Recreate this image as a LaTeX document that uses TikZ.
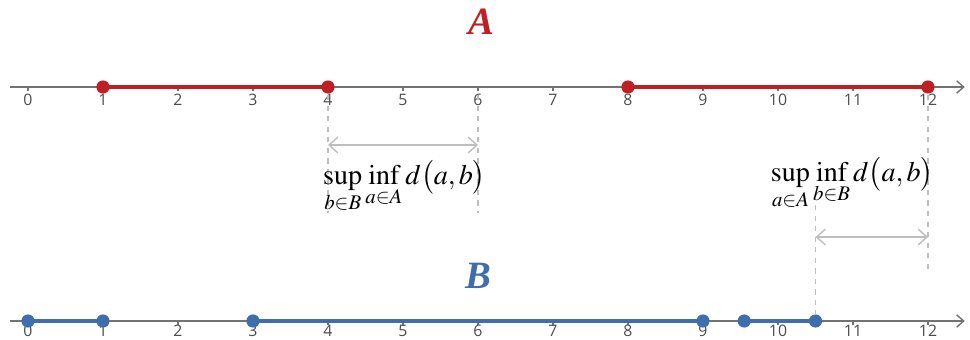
\documentclass[tikz,border=0pt]{standalone}
\usepackage{amsmath, amssymb}
\usepackage{mathptmx}
\usepackage{fontspec}
\newfontfamily\ticksfont{Open Sans}
\newfontfamily\setfont{Liberation Serif}
\usepackage{tikz}
\usetikzlibrary{
  arrows.meta,%
  calc,%
  positioning
}
\definecolor{setA}{RGB}{192,32,36}
\definecolor{setB}{RGB}{62,110,172}
\definecolor{axisgray}{RGB}{115,115,115}
\definecolor{guidegray}{RGB}{190,190,190}
\tikzset{>={Straight Barb[length=5pt,width=9pt]}}
\tikzset{
  numaxis/.style={draw=axisgray, thick, -{Straight Barb[length=4pt,width=7pt]}},
  tickmark/.style={draw=axisgray, thick},
  ticklab/.style={font=\ticksfont\fontsize{9}{10}\selectfont, text=black!70, inner sep=0pt},
  segA/.style={draw=setA, line width=2pt},
  segB/.style={draw=setB, line width=2pt},
  dotA/.style={circle, fill=setA, inner sep=0pt, minimum size=7.5pt},
  dotB/.style={circle, fill=setB, inner sep=0pt, minimum size=7.5pt},
  guide/.style={draw=guidegray, dashed, thick},
  gap/.style={draw=guidegray, thick, <->},
  setname/.style={font=\setfont\bfseries\itshape\fontsize{22}{24}\selectfont},
  hausd/.style={font=\fontsize{16}{19}\selectfont, inner sep=0pt}
}

\begin{document}
\begin{tikzpicture}[x=1.5cm, y=1cm]
  \useasboundingbox (-0.3733,1.74) rectangle (12.56,-5.04);
  % number lines
  \coordinate (topL) at (-0.24,0);
  \coordinate (topR) at (12.49,0);
  \coordinate (botL) at (-0.24,-4.68);
  \coordinate (botR) at (12.49,-4.68);
  \draw[numaxis] (topL) -- (topR);
  \draw[numaxis] (botL) -- (botR);
  \foreach \k in {0,...,12} {
    \draw[tickmark] (\k,0) -- (\k,-0.08);
    \node[ticklab] (ta\k) at (\k,-0.25) {\k};
    \draw[tickmark] (\k,-4.68) -- (\k,-4.76);
    \node[ticklab] (tb\k) at (\k,-4.88) {\k};
  }
  % set A
  \foreach \v/\n in {1/1,4/4,8/8,12/12}
    \coordinate (pA\n) at (\v,0);
  \draw[segA] (pA1) -- (pA4);
  \draw[segA] (pA8) -- (pA12);
  \foreach \n in {1,4,8,12}
    \node[dotA] (dA\n) at (pA\n) {};
  % set B
  \foreach \v/\n in {0/0,1/1,3/3,9/9,9.55/95,10.5/105}
    \coordinate (pB\n) at (\v,-4.68);
  \draw[segB] (pB0) -- (pB1);
  \draw[segB] (pB3) -- (pB9);
  \draw[segB] (pB95) -- (pB105);
  \foreach \n in {0,1,3,9,95,105}
    \node[dotB] (dB\n) at (pB\n) {};
  % names of the sets
  \node[setname, text=setA] (nameA) at (6.04,1.30) {A};
  \node[setname, text=setB] (nameB) at (6.0,-3.78) {B};
  % sup over B of inf over A
  \coordinate (g4t) at (4,-0.16);
  \coordinate (g4b) at (4,-2.52);
  \coordinate (g6t) at (6,-0.16);
  \coordinate (g6b) at (6,-2.52);
  \draw[guide] (g4t) -- (g4b);
  \draw[guide] (g6t) -- (g6b);
  \coordinate (h4) at (4,-1.16);
  \coordinate (h6) at (6,-1.16);
  \draw[gap] (h4) -- (h6);
  \node[hausd] (supB) at (5.02,-2.0) {$\displaystyle\sup_{b\in B}\inf_{a\in A} d\bigl(a,b\bigr)$};
  % sup over A of inf over B
  \coordinate (g12t) at (12,-0.16);
  \coordinate (g12b) at (12,-3.66);
  \coordinate (g105t) at (10.5,-2.36);
  \coordinate (g105b) at (10.5,-4.56);
  \draw[guide] (g12t) -- (g12b);
  \draw[guide] (g105t) -- (g105b);
  \coordinate (h105) at (10.5,-3.0);
  \coordinate (h12) at (12,-3.0);
  \draw[gap] (h105) -- (h12);
  \node[hausd] (supA) at (10.99,-1.94) {$\displaystyle\sup_{a\in A}\inf_{b\in B} d\bigl(a,b\bigr)$};
\end{tikzpicture}
\end{document}
